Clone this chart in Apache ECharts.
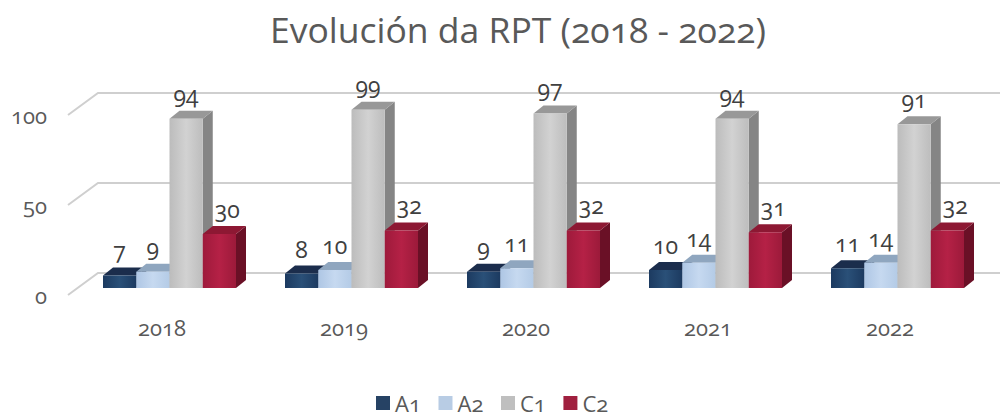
<!DOCTYPE html>
<html>
<head>
<meta charset="utf-8">
<script src="https://cdn.jsdelivr.net/npm/echarts@6/dist/echarts.min.js"></script>
<style>
html, body { margin: 0; background: #fff; }
#chart { width: 1000px; height: 412px; }
/* the reference font has old style figures */
#chart text { font-variant-numeric: oldstyle-nums !important; font-feature-settings: "onum" 1 !important; }
</style>
</head>
<body>
<div id="chart"></div>
<script>
var categories = ['2018', '2019', '2020', '2021', '2022'];
var a1Values = [7, 8, 9, 10, 11];
var a2Values = [9, 10, 11, 14, 14];
var c1Values = [94, 99, 97, 94, 91];
var c2Values = [30, 32, 32, 31, 32];
var yTicks = [0, 50, 100];

var fontName = '"Open Sans", Lato, sans-serif';

// fake 3D: front plane is the grid, bars and back wall are shifted from it
var wallDx = 30, wallDy = -22;
var barDx = 10, barDy = 8;
var barShiftY = -7;
var barWidth = 33.25;
var groupShiftX = 7.5;

var palette = {
    A1: {legend: '#264264', front: ['#1c3a60', '#2a5078', '#1c3a60'], top: '#1b2d4c', side: '#16263f'},
    A2: {legend: '#b8cce4', front: ['#aec6e4', '#c6d9f0', '#b4cbe6'], top: '#8fa6bf', side: '#7f96ae'},
    C1: {legend: '#bfbfbf', front: ['#bcbcbc', '#d2d2d2', '#bdbdbd'], top: '#989898', side: '#858585'},
    C2: {legend: '#a0203f', front: ['#9e1a3b', '#b52146', '#9c1a3a'], top: '#8d1833', side: '#6a1026'}
};

function gradient(colors) {
    return new echarts.graphic.LinearGradient(0, 0, 1, 0, [
        {offset: 0, color: colors[0]},
        {offset: 0.5, color: colors[1]},
        {offset: 1, color: colors[2]}
    ]);
}

function renderWall(params, api) {
    var area = params.coordSys;
    var y = api.coord([0, api.value(0)])[1];
    var left = area.x - 3;
    return {
        type: 'polyline',
        silent: true,
        shape: {points: [[left, y], [left + wallDx, y + wallDy], [1000, y + wallDy]]},
        style: {stroke: '#cfcfcf', lineWidth: 2, fill: null}
    };
}

function barRenderer(name, index, labelDx) {
    var colors = palette[name];
    return function (params, api) {
        var top = api.coord([api.value(0), api.value(1)]);
        var base = api.coord([api.value(0), 0]);
        var x0 = top[0] + groupShiftX + (index - 2) * barWidth;
        var x1 = x0 + barWidth;
        var y0 = top[1] + barShiftY;
        var y1 = base[1] + barShiftY;
        return {
            type: 'group',
            children: [
                {
                    type: 'polygon',
                    shape: {points: [[x1, y0], [x1 + barDx, y0 - barDy], [x1 + barDx, y1 - barDy], [x1, y1]]},
                    style: {fill: colors.side}
                },
                {
                    type: 'polygon',
                    shape: {points: [[x0, y0], [x0 + barDx, y0 - barDy], [x1 + barDx, y0 - barDy], [x1, y0]]},
                    style: {fill: colors.top}
                },
                {
                    type: 'rect',
                    shape: {x: x0, y: y0, width: barWidth, height: y1 - y0},
                    style: {fill: gradient(colors.front)}
                },
                {
                    type: 'text',
                    z2: 50,
                    style: {
                        text: String(api.value(1)),
                        x: (x0 + x1) / 2 + labelDx,
                        y: y0 - barDy - 17,
                        align: 'center',
                        verticalAlign: 'middle',
                        fill: '#404040',
                        fontSize: 23,
                        fontFamily: fontName
                    }
                }
            ]
        };
    };
}

function barSeries(name, values, index, labelDx) {
    return {
        name: name,
        type: 'custom',
        coordinateSystem: 'cartesian2d',
        clip: false,
        z: 3 + index,
        itemStyle: {color: palette[name].legend},
        encode: {x: 0, y: 1},
        data: values.map(function (v, i) { return [i, v]; }),
        renderItem: barRenderer(name, index, labelDx)
    };
}

var chart = echarts.init(document.getElementById('chart'), null, {renderer: 'svg'});
chart.setOption({
    animation: false,
    backgroundColor: '#fff',
    title: {
        text: 'Evolución da RPT (2018 - 2022)',
        left: 513,
        top: 6,
        textAlign: 'center',
        textStyle: {color: '#595959', fontWeight: 'normal', fontSize: 35.5, fontFamily: fontName}
    },
    legend: {
        data: ['A1', 'A2', 'C1', 'C2'],
        left: 376,
        top: 392,
        padding: 0,
        icon: 'rect',
        itemWidth: 14,
        itemHeight: 14,
        itemGap: 17,
        selectedMode: false,
        textStyle: {color: '#595959', fontSize: 22, lineHeight: 17, fontFamily: fontName}
    },
    grid: {left: 71, right: 19, top: 115, bottom: 117},
    xAxis: {
        type: 'category',
        data: categories,
        axisLine: {show: false},
        axisTick: {show: false},
        axisLabel: {color: '#595959', fontSize: 22, fontFamily: fontName, margin: 21}
    },
    yAxis: {
        type: 'value',
        min: 0,
        max: 100,
        interval: 50,
        splitLine: {show: false},
        axisLine: {show: false},
        axisTick: {show: false},
        axisLabel: {color: '#595959', fontSize: 22, fontFamily: fontName, margin: 24}
    },
    series: [
        {
            name: 'wall',
            type: 'custom',
            coordinateSystem: 'cartesian2d',
            clip: false,
            z: 1,
            silent: true,
            encode: {y: 0},
            data: yTicks.map(function (v) { return [v]; }),
            renderItem: renderWall
        },
        barSeries('A1', a1Values, 0, 0),
        barSeries('A2', a2Values, 1, 0),
        barSeries('C1', c1Values, 2, 0),
        barSeries('C2', c2Values, 3, 8)
    ]
});
</script>
</body>
</html>
